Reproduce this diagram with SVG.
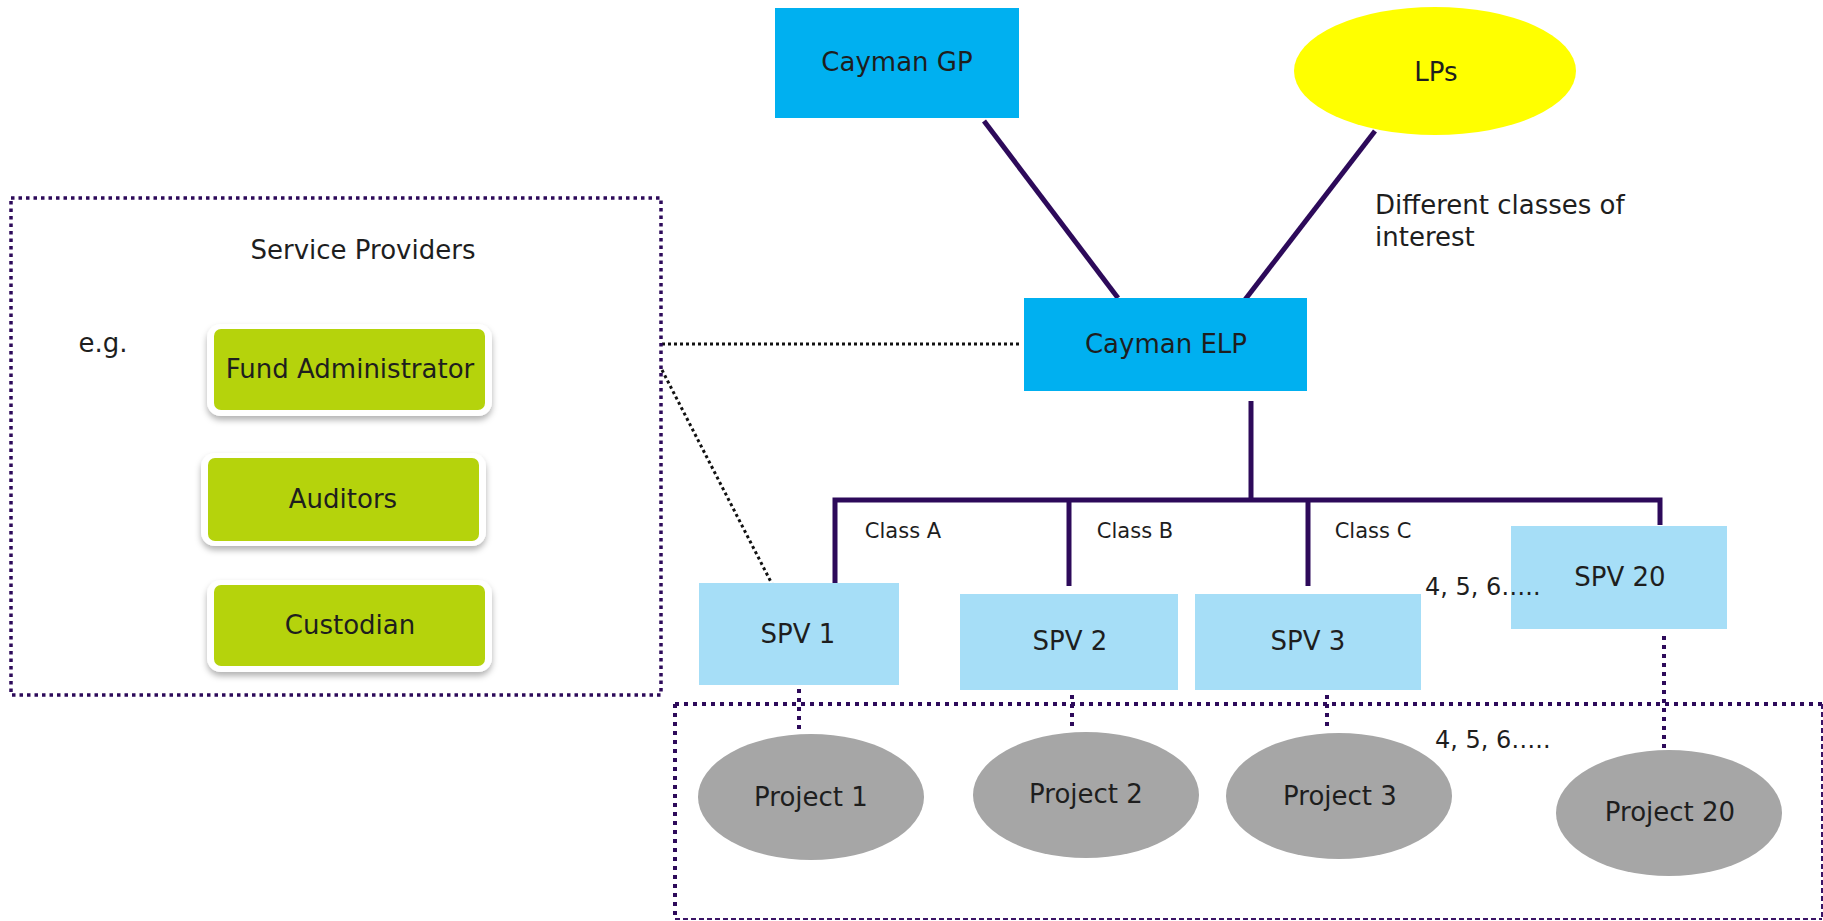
<svg xmlns="http://www.w3.org/2000/svg" width="1823" height="921" viewBox="0 0 1823 921">
<defs>
<style>
text{font-family:"DejaVu Sans","Verdana",sans-serif;fill:#1e1e1e;text-anchor:middle;dominant-baseline:central}
.t26{font-size:26px}
.t21{font-size:21px}
.t24{font-size:24px}
.solid{stroke:#2d0a5a;stroke-width:5;fill:none}
.dotbig{stroke:#2d0a5a;stroke-width:4;stroke-dasharray:4 5;fill:none}
.dotbox{stroke:#2d0a5a;stroke-width:3.5;stroke-dasharray:3.5 4;fill:none}
.dashthin{stroke:#3a1466;stroke-width:2;stroke-dasharray:5 3;fill:none}
.dotblack{stroke:#111;stroke-width:3;stroke-dasharray:3 3;fill:none}
.blue{fill:#00b0f0}
.light{fill:#a6def7}
.green{fill:#b5d30c}
.grey{fill:#a6a6a6}
</style>
<filter id="sh" x="-10%" y="-20%" width="120%" height="150%">
<feDropShadow dx="0" dy="4" stdDeviation="3" flood-color="#000" flood-opacity="0.3"/>
</filter>
</defs>
<rect width="1823" height="921" fill="#fff"/>

<g id="connectors">
<line class="solid" x1="984" y1="121" x2="1118" y2="298"/>
<line class="solid" x1="1375" y1="131" x2="1244" y2="301"/>
<line class="solid" x1="1251" y1="401" x2="1251" y2="500"/>
<polyline class="solid" points="835,583 835,500 1660,500 1660,525"/>
<line class="solid" x1="1069" y1="500" x2="1069" y2="586"/>
<line class="solid" x1="1308" y1="500" x2="1308" y2="586"/>
<line class="dotblack" x1="662" y1="344" x2="1022" y2="344"/>
<line class="dotblack" x1="662" y1="370" x2="772" y2="584"/>
<line class="dotbig" x1="799" y1="689" x2="799" y2="730"/>
<line class="dotbig" x1="1072" y1="695" x2="1072" y2="731"/>
<line class="dotbig" x1="1327" y1="695" x2="1327" y2="731"/>
<line class="dotbig" x1="1664" y1="636" x2="1664" y2="758"/>
</g>

<g id="service-providers-box">
<rect class="dotbox" x="11" y="198" width="650" height="497"/>
<text class="t26" x="363" y="250">Service Providers</text>
<text class="t26" x="103" y="343">e.g.</text>
</g>

<g id="projects-box">
<line class="dotbig" x1="675" y1="704" x2="1822" y2="704"/>
<line class="dotbig" x1="675" y1="704" x2="675" y2="919"/>
<line class="dashthin" x1="1822" y1="704" x2="1822" y2="919"/>
<line class="dashthin" x1="675" y1="919" x2="1822" y2="919"/>
</g>

<g id="cayman-gp">
<rect class="blue" x="775" y="8" width="244" height="110"/>
<text class="t26" x="897" y="62">Cayman GP</text>
</g>

<g id="lps">
<ellipse fill="#ffff00" cx="1435" cy="71" rx="141" ry="64"/>
<text class="t26" x="1436" y="72">LPs</text>
</g>

<g id="note-classes">
<text class="t26" x="1375" y="205" style="text-anchor:start">Different classes of</text>
<text class="t26" x="1375" y="237" style="text-anchor:start">interest</text>
</g>

<g id="cayman-elp">
<rect class="blue" x="1024" y="298" width="283" height="93"/>
<text class="t26" x="1166" y="344">Cayman ELP</text>
</g>

<g id="class-labels">
<text class="t21" x="903" y="531">Class A</text>
<text class="t21" x="1135" y="531">Class B</text>
<text class="t21" x="1373" y="531">Class C</text>
</g>

<g id="fund-admin">
<rect x="207" y="324" width="285" height="92" rx="14" fill="#fff" filter="url(#sh)"/>
<rect class="green" x="214" y="329" width="271" height="81" rx="7"/>
<text class="t26" x="350" y="369">Fund Administrator</text>
</g>

<g id="auditors">
<rect x="201" y="453" width="285" height="93" rx="14" fill="#fff" filter="url(#sh)"/>
<rect class="green" x="208" y="458" width="271" height="83" rx="7"/>
<text class="t26" x="343" y="499">Auditors</text>
</g>

<g id="custodian">
<rect x="207" y="580" width="285" height="92" rx="14" fill="#fff" filter="url(#sh)"/>
<rect class="green" x="214" y="585" width="271" height="81" rx="7"/>
<text class="t26" x="350" y="625">Custodian</text>
</g>

<g id="spv1">
<rect class="light" x="699" y="583" width="200" height="102"/>
<text class="t26" x="798" y="634">SPV 1</text>
</g>

<g id="spv2">
<rect class="light" x="960" y="594" width="218" height="96"/>
<text class="t26" x="1070" y="641">SPV 2</text>
</g>

<g id="spv3">
<rect class="light" x="1195" y="594" width="226" height="96"/>
<text class="t26" x="1308" y="641">SPV 3</text>
</g>

<g id="spv20">
<rect class="light" x="1511" y="526" width="216" height="103"/>
<text class="t26" x="1620" y="577">SPV 20</text>
</g>

<g id="ellipsis-labels">
<text class="t24" x="1425" y="587" style="text-anchor:start">4, 5, 6…..</text>
<text class="t24" x="1435" y="740" style="text-anchor:start">4, 5, 6…..</text>
</g>

<g id="project1">
<ellipse class="grey" cx="811" cy="797" rx="113" ry="63"/>
<text class="t26" x="811" y="797">Project 1</text>
</g>
<g id="project2">
<ellipse class="grey" cx="1086" cy="795" rx="113" ry="63"/>
<text class="t26" x="1086" y="794">Project 2</text>
</g>
<g id="project3">
<ellipse class="grey" cx="1339" cy="796" rx="113" ry="63"/>
<text class="t26" x="1340" y="796">Project 3</text>
</g>
<g id="project20">
<ellipse class="grey" cx="1669" cy="813" rx="113" ry="63"/>
<text class="t26" x="1670" y="812">Project 20</text>
</g>
</svg>
